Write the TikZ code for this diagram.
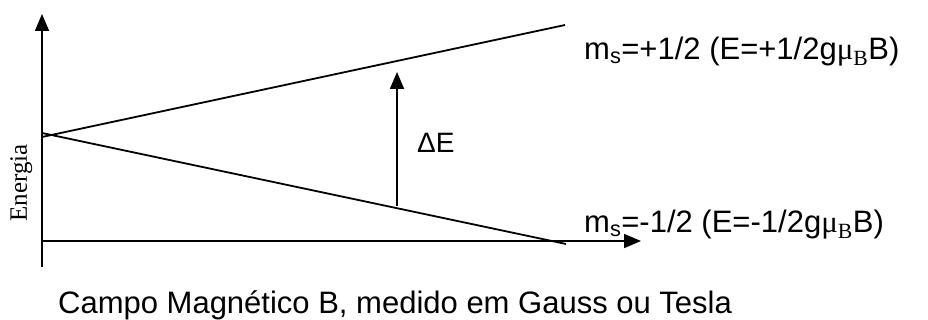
\documentclass[tikz,border=0pt]{standalone}
\usepackage{fontspec}
\setmainfont{Liberation Sans}
\newfontfamily\seriffont{Liberation Serif}
\usetikzlibrary{arrows.meta}
\tikzset{
  ln/.style={line width=1.8pt},
  axis/.style={ln,-{Triangle[length=17pt,width=14pt]}},
  lbl/.style={anchor=base west,inner sep=0pt,font=\fontsize{31}{36}\selectfont},
}
\begin{document}
\begin{tikzpicture}[x=1pt,y=-1pt]
\useasboundingbox (0,0) rectangle (928,320);
\coordinate (ybot) at (42,267);
\coordinate (ytop) at (42,14);
\coordinate (xleft) at (42,241);
\coordinate (xright) at (641,241);
\coordinate (uA) at (42,137);
\coordinate (uB) at (565,25);
\coordinate (lA) at (42,133);
\coordinate (lB) at (566,244);
\coordinate (dEbot) at (397,206);
\coordinate (dEtop) at (397,72);
\draw[axis] (ybot) -- (ytop);
\draw[axis] (xleft) -- (xright);
\draw[ln] (uA) -- (uB);
\draw[ln] (lA) -- (lB);
\draw[axis] (dEbot) -- (dEtop);
\node[lbl] (up) at (584,60) {m\textsubscript{s}=+1/2 (E=+1/2g{\seriffont μ}\textsubscript{\seriffont B}B)};
\node[lbl] (lo) at (584,233) {m\textsubscript{s}=-1/2 (E=-1/2g{\seriffont μ}\textsubscript{\seriffont B}B)};
\node[lbl,font=\fontsize{28}{32}\selectfont] (dE) at (417,153) {ΔE};
\node[lbl] (cap) at (58,313) {Campo Magnético B, medido em Gauss ou Tesla};
\node[anchor=base,inner sep=0pt,rotate=90,font=\seriffont\fontsize{25}{30}\selectfont] (en) at (27,183) {Energia};
\end{tikzpicture}
\end{document}
